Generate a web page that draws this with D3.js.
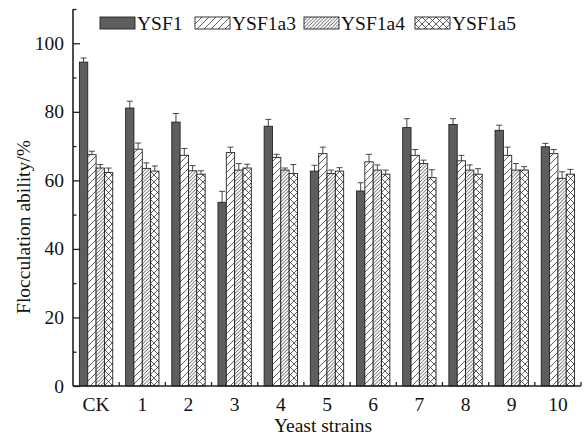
<!DOCTYPE html>
<html>
<head>
<meta charset="utf-8">
<script src="https://cdn.jsdelivr.net/npm/d3@7"></script>
<style>
  body { margin: 0; background: #fff; }
  text { font-family: 'Liberation Serif', 'Times New Roman', serif; fill: #111; }
</style>
</head>
<body>
<div id="chart"></div>
<script>
// data
const categories = ['CK', '1', '2', '3', '4', '5', '6', '7', '8', '9', '10'];
const seriesNames = ['YSF1', 'YSF1a3', 'YSF1a4', 'YSF1a5'];
const ysf1 = [94.5, 81.1, 77.0, 53.6, 75.8, 62.7, 56.9, 75.4, 76.3, 74.6, 69.8];
const ysf1Err = [1.2, 2.0, 2.5, 3.2, 2.0, 1.7, 2.4, 2.6, 1.7, 1.5, 1.0];
const ysf1a3 = [67.5, 69.1, 67.3, 68.1, 66.7, 67.8, 65.4, 67.3, 65.7, 67.3, 67.8];
const ysf1a3Err = [1.0, 1.8, 2.0, 1.6, 0.9, 1.9, 2.2, 1.7, 1.6, 2.4, 1.2];
const ysf1a4 = [63.6, 63.5, 62.8, 63.0, 63.0, 62.0, 63.0, 64.9, 63.0, 63.0, 60.6];
const ysf1a4Err = [1.0, 1.6, 1.5, 1.9, 0.6, 1.0, 1.5, 1.0, 1.5, 1.9, 1.9];
const ysf1a5 = [62.3, 62.7, 61.8, 63.6, 62.0, 62.7, 61.8, 60.8, 61.8, 63.0, 61.8];
const ysf1a5Err = [1.3, 1.5, 1.0, 1.1, 2.6, 1.0, 1.2, 2.3, 1.6, 1.0, 1.4];
const yTicks = [0, 20, 40, 60, 80, 100];

const W = 584, H = 439;
const MARGIN = { top: 9, right: 3, bottom: 53, left: 73 };
const FONT = 19.5;

const values = [ysf1, ysf1a3, ysf1a4, ysf1a5];
const errors = [ysf1Err, ysf1a3Err, ysf1a4Err, ysf1a5Err];
const fills = ['#5e5e5e', 'url(#hatch)', 'url(#hatchDense)', 'url(#cross)'];

let svg = d3.select('#chart').append('svg')
    .attr('width', W)
    .attr('height', H);

// hatch patterns
let defs = svg.append('defs');
function addPattern(id, size, d) {
    let p = defs.append('pattern')
        .attr('id', id)
        .attr('patternUnits', 'userSpaceOnUse')
        .attr('width', size)
        .attr('height', size);
    p.append('rect').attr('width', size).attr('height', size).attr('fill', '#fff');
    p.append('path').attr('d', d).attr('stroke', '#333').attr('stroke-width', 0.8).attr('fill', 'none');
}
addPattern('hatch', 7, 'M0,7L7,0M-1,1L1,-1M6,8L8,6');
addPattern('hatchDense', 3.5, 'M0,3.5L3.5,0M-1,1L1,-1M2.5,4.5L4.5,2.5');
addPattern('cross', 7, 'M0,7L7,0M-1,1L1,-1M6,8L8,6M0,0L7,7M-1,6L1,8M6,-1L8,1');

let x = d3.scaleBand()
    .domain(categories)
    .range([MARGIN.left, W - MARGIN.right]);

let xInner = d3.scaleBand()
    .domain(seriesNames)
    .range([0, x.bandwidth()])
    .paddingOuter(0.77);

let y = d3.scaleLinear()
    .domain([0, 110])
    .range([H - MARGIN.bottom, MARGIN.top]);

// bars
let rows = [];
categories.forEach((c, i) => {
    seriesNames.forEach((s, j) => {
        rows.push({ cat: c, series: s, j: j, v: values[j][i], e: errors[j][i] });
    });
});

let g = svg.append('g');
g.selectAll('rect.bar')
    .data(rows)
    .join('rect')
    .attr('class', 'bar')
    .attr('x', (d) => x(d.cat) + xInner(d.series))
    .attr('y', (d) => y(d.v))
    .attr('width', xInner.bandwidth())
    .attr('height', (d) => y(0) - y(d.v))
    .attr('fill', (d) => fills[d.j])
    .attr('stroke', '#222')
    .attr('stroke-width', 0.9);

// error bars (upper only)
let eb = g.selectAll('g.err')
    .data(rows)
    .join('g')
    .attr('class', 'err')
    .attr('stroke', '#333')
    .attr('stroke-width', 0.9);
eb.append('line')
    .attr('x1', (d) => x(d.cat) + xInner(d.series) + xInner.bandwidth() / 2)
    .attr('x2', (d) => x(d.cat) + xInner(d.series) + xInner.bandwidth() / 2)
    .attr('y1', (d) => y(d.v))
    .attr('y2', (d) => y(d.v + d.e));
eb.append('line')
    .attr('x1', (d) => x(d.cat) + xInner(d.series) + xInner.bandwidth() / 2 - 3)
    .attr('x2', (d) => x(d.cat) + xInner(d.series) + xInner.bandwidth() / 2 + 3)
    .attr('y1', (d) => y(d.v + d.e))
    .attr('y2', (d) => y(d.v + d.e));

// y axis with inward ticks
let yAxis = svg.append('g')
    .attr('transform', 'translate(' + MARGIN.left + ',0)')
    .call(d3.axisRight(y).tickValues(yTicks).tickSize(7).tickFormat(''));
yAxis.select('.domain').remove();
svg.append('g')
    .attr('transform', 'translate(' + MARGIN.left + ',0)')
    .call(d3.axisRight(y).tickValues([10, 30, 50, 70, 90, 110]).tickSize(3.5).tickFormat(''))
    .select('.domain').remove();
svg.selectAll('.tick line').attr('stroke', '#222').attr('stroke-width', 1.3);

svg.selectAll('text.ylab')
    .data(yTicks)
    .join('text')
    .attr('class', 'ylab')
    .attr('x', MARGIN.left - 9)
    .attr('y', (d) => y(d) + 6.5)
    .attr('text-anchor', 'end')
    .attr('font-size', FONT)
    .text((d) => d);

svg.append('line')
    .attr('x1', MARGIN.left).attr('x2', MARGIN.left)
    .attr('y1', y(0)).attr('y2', y(110))
    .attr('stroke', '#222').attr('stroke-width', 1.6);

// x axis: small upward ticks at group boundaries
let bounds = categories.map((c) => x(c) + x.bandwidth());
svg.selectAll('line.xt')
    .data(bounds)
    .join('line')
    .attr('class', 'xt')
    .attr('x1', (d) => d).attr('x2', (d) => d)
    .attr('y1', y(0)).attr('y2', y(0) - 4)
    .attr('stroke', '#222').attr('stroke-width', 1.3);
svg.append('line')
    .attr('x1', MARGIN.left).attr('x2', W - MARGIN.right)
    .attr('y1', y(0)).attr('y2', y(0))
    .attr('stroke', '#222').attr('stroke-width', 1.6);

svg.selectAll('text.xlab')
    .data(categories)
    .join('text')
    .attr('class', 'xlab')
    .attr('x', (d) => x(d) + x.bandwidth() / 2)
    .attr('y', 411)
    .attr('text-anchor', 'middle')
    .attr('font-size', FONT)
    .text((d) => d);

// axis titles
svg.append('text')
    .attr('x', (MARGIN.left + W - MARGIN.right) / 2 - 4)
    .attr('y', 432)
    .attr('text-anchor', 'middle')
    .attr('font-size', FONT)
    .text('Yeast strains');

svg.append('text')
    .attr('transform', 'translate(30,227) rotate(-90)')
    .attr('text-anchor', 'middle')
    .attr('font-size', FONT)
    .text('Flocculation ability/%');

// legend
const legendX = [100, 195, 304, 415];
let lg = svg.selectAll('g.legend')
    .data(seriesNames)
    .join('g')
    .attr('class', 'legend')
    .attr('transform', (d, i) => 'translate(' + legendX[i] + ',17)');
lg.append('rect')
    .attr('width', 35)
    .attr('height', 12)
    .attr('fill', (d, i) => fills[i])
    .attr('stroke', '#222')
    .attr('stroke-width', 0.9);
lg.append('text')
    .attr('x', 37)
    .attr('y', 12.5)
    .attr('font-size', FONT)
    .text((d) => d);
</script>
</body>
</html>
